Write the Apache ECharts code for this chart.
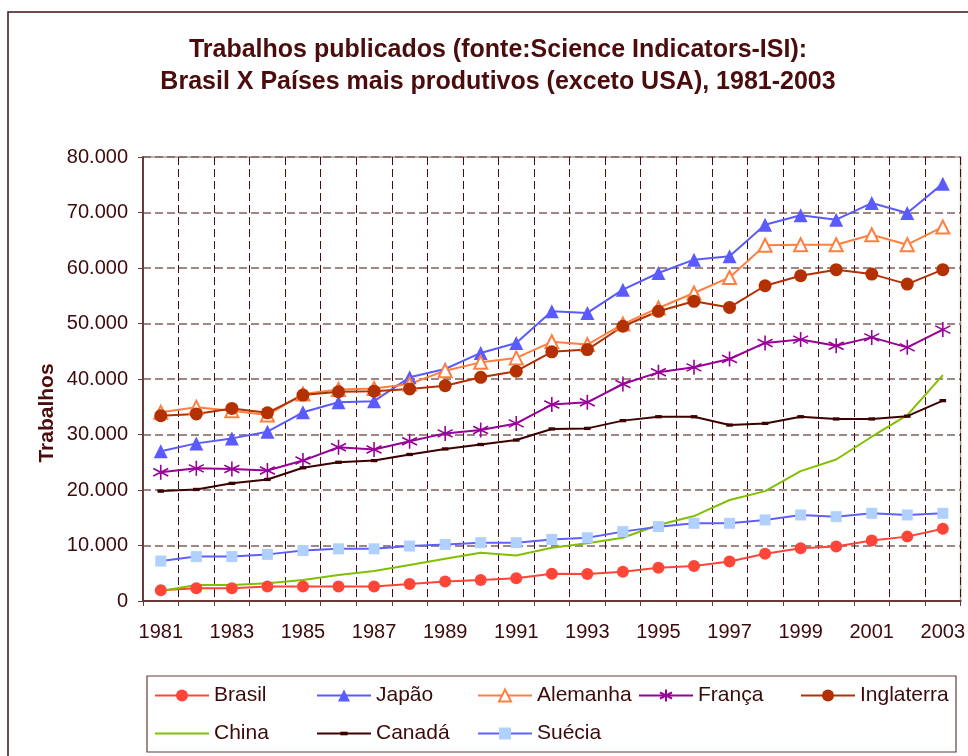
<!DOCTYPE html>
<html>
<head>
<meta charset="utf-8">
<script src="https://cdn.jsdelivr.net/npm/echarts@6/dist/echarts.min.js"></script>
<style>
  html, body { margin: 0; padding: 0; background: #fff; }
  #chart { width: 968px; height: 756px; }
</style>
</head>
<body>
<div id="chart"></div>
<script>
// anos e valores
var anos = ['1981', '1982', '1983', '1984', '1985', '1986', '1987', '1988', '1989', '1990', '1991', '1992',
            '1993', '1994', '1995', '1996', '1997', '1998', '1999', '2000', '2001', '2002', '2003'];
var brasil = [1950, 2300, 2300, 2600, 2600, 2600, 2600, 3050, 3500, 3800, 4100, 4900,
              4850, 5250, 6000, 6300, 7100, 8500, 9500, 9800, 10900, 11600, 13000];
var japao = [27000, 28400, 29300, 30500, 34000, 35800, 36000, 40300, 41800, 44700, 46500, 52200,
             51900, 56100, 59100, 61500, 62100, 67800, 69500, 68700, 71700, 69900, 75200];
var alemanha = [34000, 34900, 34300, 33500, 37300, 38100, 38300, 39100, 41500, 43000, 43800, 46700,
                46200, 49900, 52800, 55500, 58300, 64100, 64200, 64200, 66000, 64200, 67400];
var franca = [23200, 23900, 23800, 23500, 25300, 27700, 27300, 28800, 30200, 30800, 32000, 35400,
              35800, 39100, 41200, 42100, 43600, 46500, 47100, 46000, 47500, 45700, 48900];
var inglaterra = [33400, 33700, 34700, 33900, 37100, 37700, 37800, 38200, 38800, 40300, 41400, 44900,
                  45300, 49500, 52200, 54000, 52900, 56800, 58600, 59700, 58900, 57100, 59700];
var china = [1800, 2900, 2900, 3200, 3800, 4700, 5400, 6500, 7600, 8700, 8200, 9600,
             10400, 11400, 13700, 15300, 18200, 19800, 23400, 25500, 29600, 33500, 40700];
var canada = [19800, 20100, 21200, 21900, 24000, 25000, 25300, 26400, 27400, 28200, 29000, 31000,
              31100, 32500, 33200, 33200, 31700, 32000, 33200, 32800, 32800, 33300, 36100];
var suecia = [7200, 8000, 8000, 8400, 9100, 9400, 9400, 9900, 10200, 10500, 10500, 11100,
              11400, 12500, 13400, 14000, 14000, 14600, 15500, 15200, 15800, 15500, 15800];
var nomes = ['Brasil', 'Japão', 'Alemanha', 'França', 'Inglaterra', 'China', 'Canadá', 'Suécia'];
var yMax = 80000;
var yPasso = 10000;

var fonte = "'Liberation Sans', Arial, sans-serif";
var corTexto = '#3c0a0a';

function serie(nome, dados, cor, simbolo, tam) {
    return {
        name: nome,
        type: 'line',
        data: dados,
        symbol: simbolo,
        symbolSize: tam,
        showSymbol: simbolo !== 'none',
        lineStyle: { color: cor, width: 2 },
        itemStyle: { color: cor },
        emphasis: { disabled: true }
    };
}

// uma legenda por item, para imitar as colunas fixas do Excel
var colunas = [154, 316, 477, 638, 800];
var linhas = [685, 723];
function legendas() {
    var out = [];
    for (var i = 0; i < nomes.length; i++) {
        var item = { name: nomes[i] };
        if (nomes[i] === 'China') { item.itemStyle = { opacity: 0 }; }
        out.push({
            left: colunas[i % 5],
            top: linhas[Math.floor(i / 5)],
            padding: 0,
            itemWidth: 54,
            itemHeight: 15,
            selectedMode: false,
            data: [item],
            textStyle: { fontFamily: fonte, fontSize: 21, color: corTexto }
        });
    }
    return out;
}

var asterisco = 'path://M0,-10L0,10M-8.7,-5L8.7,5M-8.7,5L8.7,-5';
// caixa quadrada invisivel (so pontos M) com um traco fino no meio
var traco = 'path://M0,0M10,10M2,3.5L8,3.5L8,6.5L2,6.5Z';

var myChart = echarts.init(document.getElementById('chart'));
var option = {
    backgroundColor: '#fff',
    animation: false,
    textStyle: { fontFamily: fonte },
    title: {
        text: 'Trabalhos publicados (fonte:Science Indicators-ISI):\nBrasil X Países mais produtivos (exceto USA), 1981-2003',
        left: 493,
        top: 29,
        textAlign: 'center',
        textStyle: { fontFamily: fonte, fontSize: 25, fontWeight: 'bold', color: '#4a0c0c', lineHeight: 32 }
    },
    grid: {
        left: 143, right: 4, top: 157, bottom: 155,
        show: true, backgroundColor: '#fff', borderColor: '#a8a090', borderWidth: 1.5
    },
    legend: legendas(),
    xAxis: {
        type: 'category',
        data: anos,
        boundaryGap: true,
        axisLine: { lineStyle: { color: '#6a3a3a', width: 2 } },
        axisTick: { show: true, interval: 0, length: 5, lineStyle: { color: '#6a3a3a' } },
        axisLabel: { interval: 1, margin: 21, fontSize: 20, color: corTexto, fontFamily: fonte },
        splitLine: { show: true, interval: 0, lineStyle: { color: '#4a0a0a', type: [8, 4], width: 1 } }
    },
    yAxis: {
        type: 'value',
        min: 0,
        max: yMax,
        interval: yPasso,
        axisLine: { show: true, lineStyle: { color: '#6a3a3a', width: 2 } },
        axisTick: { show: true, length: 5, lineStyle: { color: '#6a3a3a' } },
        axisLabel: {
            margin: 15, fontSize: 20, color: corTexto, fontFamily: fonte,
            formatter: function (v) { return v === 0 ? '0' : (v / 1000) + '.000'; }
        },
        splitLine: { show: true, lineStyle: { color: '#80605f', type: [8, 4], width: 1.5 } }
    },
    graphic: [
        { type: 'rect', shape: { x: 8, y: 12, width: 1000, height: 800 }, style: { fill: 'none', stroke: '#3c1414', lineWidth: 1.5 }, silent: true },
        { type: 'rect', shape: { x: 147, y: 676, width: 809, height: 76 }, style: { fill: 'none', stroke: '#6a3a3a', lineWidth: 1.2 }, silent: true },
        {
            type: 'text', x: 47, y: 413, rotation: Math.PI / 2,
            style: { text: 'Trabalhos', font: 'bold 21px ' + fonte, fill: '#4a0c0c', textAlign: 'center', textVerticalAlign: 'middle' }
        }
    ],
    series: [
        serie('Brasil', brasil, '#ff4538', 'circle', 12),
        serie('Japão', japao, '#5a5aff', 'triangle', 14),
        serie('Alemanha', alemanha, '#ff7f40', 'emptyTriangle', 13),
        serie('França', franca, '#990099', asterisco, 15),
        serie('Inglaterra', inglaterra, '#b33000', 'circle', 13),
        serie('China', china, '#80c000', 'none', 0),
        serie('Canadá', canada, '#3c0000', traco, 11),
        serie('Suécia', suecia, '#6060ff', 'rect', 11)
    ]
};
// ajustes de estilo de marcadores
option.series[2].itemStyle = { color: '#ff7f40', borderColor: '#ff7f40', borderWidth: 1.8 };
option.series[3].itemStyle = { color: '#990099', borderColor: '#990099', borderWidth: 1.6 };
option.series[7].itemStyle = { color: '#b0d0ff' };
myChart.setOption(option);
</script>
</body>
</html>
